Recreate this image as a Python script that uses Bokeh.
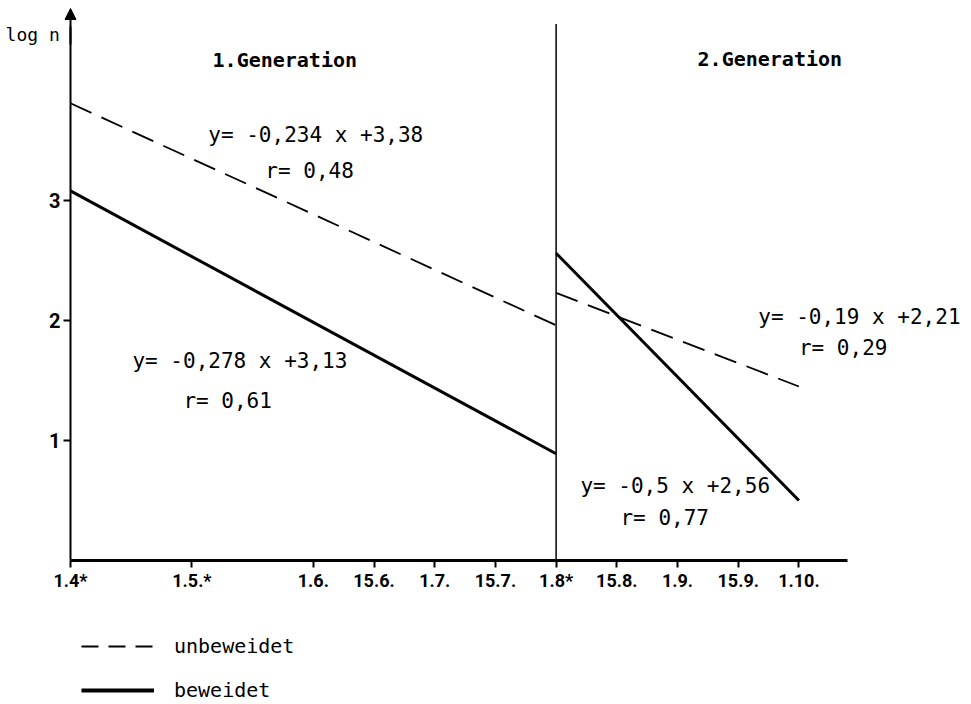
from bokeh.plotting import figure
from bokeh.models import (Range1d, LinearAxis, FixedTicker, Label, Legend, LegendItem,
                          Arrow, NormalHead)
from bokeh.embed import file_html
from bokeh.resources import INLINE

# ---- data ----
tick_pos = [0, 2, 4, 5, 6, 7, 8, 9, 10, 11, 12]
tick_labels = ["1.4*", "1.5.*", "1.6.", "15.6.", "1.7.", "15.7.", "1.8*",
               "15.8.", "1.9.", "15.9.", "1.10."]
y_ticks = [1, 2, 3]

gen1_x = [0, 8]
gen1_unbeweidet = [3.81, 1.96]
gen1_beweidet = [3.08, 0.89]

gen2_x = [8, 12]
gen2_unbeweidet = [2.23, 1.45]
gen2_beweidet = [2.56, 0.50]

annotations = [
    ("y= -0,234 x +3,38", 2.27, 3.55),
    ("r= 0,48", 3.21, 3.25),
    ("y= -0,278 x +3,13", 1.02, 1.66),
    ("r= 0,61", 1.86, 1.33),
    ("y= -0,19 x +2,21", 11.33, 2.03),
    ("r= 0,29", 12.0, 1.775),
    ("y= -0,5 x +2,56", 8.40, 0.625),
    ("r= 0,77", 9.06, 0.358),
]

MONO = "DejaVu Sans Mono"
NAN = float("nan")

p = figure(width=971, height=704, output_backend="svg", toolbar_location=None,
           x_range=Range1d(-1.1532, 14.843), y_range=Range1d(-1.2, 4.6667),
           x_axis_type=None, y_axis_type=None, min_border=0,
           outline_line_color=None)

# axes
xaxis = LinearAxis(fixed_location=0, bounds=(0, 12.8),
                   ticker=FixedTicker(ticks=tick_pos),
                   major_label_overrides={t: l for t, l in zip(tick_pos, tick_labels)},
                   axis_line_width=3, major_tick_out=7, major_tick_in=0,
                   minor_tick_out=0, minor_tick_in=0, major_tick_line_width=2,
                   major_label_text_font="Roboto", major_label_text_font_style="bold",
                   major_label_text_font_size="18px", major_label_standoff=2,
                   major_label_text_color="black")
p.add_layout(xaxis, "below")

yaxis = LinearAxis(fixed_location=0, bounds=(0, 4.45),
                   ticker=FixedTicker(ticks=y_ticks),
                   axis_line_width=2, major_tick_out=7, major_tick_in=0,
                   minor_tick_out=0, minor_tick_in=0, major_tick_line_width=2,
                   major_label_text_font="Roboto", major_label_text_font_style="bold",
                   major_label_text_font_size="20px", major_label_standoff=3,
                   major_label_text_color="black")
p.add_layout(yaxis, "left")

p.add_layout(Arrow(end=NormalHead(size=11, fill_color="black", line_color="black"),
                   x_start=0, y_start=4.3, x_end=0, y_end=4.6,
                   line_width=2, line_color="black"))

# generation separator
p.segment(x0=[gen1_x[-1]], y0=[0], x1=[gen1_x[-1]], y1=[4.47],
          line_color="black", line_width=1.5)

DASH = "23 11"
p.line(gen1_x, gen1_unbeweidet, line_color="black", line_width=1.8, line_dash=DASH)
p.line(gen1_x, gen1_beweidet, line_color="black", line_width=3)
p.line(gen2_x, gen2_unbeweidet, line_color="black", line_width=1.8, line_dash=DASH)
p.line(gen2_x, gen2_beweidet, line_color="black", line_width=3)

# legend proxies (style only, nothing drawn in the plot)
lg_dash = p.line([NAN, NAN], [NAN, NAN], line_color="black", line_width=2, line_dash="17 10")
lg_solid = p.line([NAN, NAN], [NAN, NAN], line_color="black", line_width=4)

for txt, x, y in annotations:
    p.add_layout(Label(x=x, y=y, text=txt, text_font=MONO, text_font_size="21px",
                       text_baseline="middle", text_align="left", text_color="black"))

p.add_layout(Label(x=2.34, y=4.175, text="1.Generation", text_font=MONO,
                   text_font_size="20px", text_font_style="bold",
                   text_baseline="middle", text_color="black"))
p.add_layout(Label(x=10.33, y=4.18, text="2.Generation", text_font=MONO,
                   text_font_size="20px", text_font_style="bold",
                   text_baseline="middle", text_color="black"))
p.add_layout(Label(x=-1.07, y=4.38, text="log n", text_font=MONO,
                   text_font_size="18px", text_baseline="middle", text_color="black"))

legend = Legend(items=[LegendItem(label="unbeweidet", renderers=[lg_dash]),
                       LegendItem(label="beweidet", renderers=[lg_solid])],
                location=(81, 2), orientation="vertical",
                glyph_width=73, glyph_height=20, label_height=20,
                label_standoff=20, spacing=20, padding=0, margin=0,
                label_text_font=MONO, label_text_font_size="20px",
                label_text_color="black",
                background_fill_alpha=0, border_line_alpha=0)
p.add_layout(legend)

open("out.html", "w").write(file_html(p, INLINE))
